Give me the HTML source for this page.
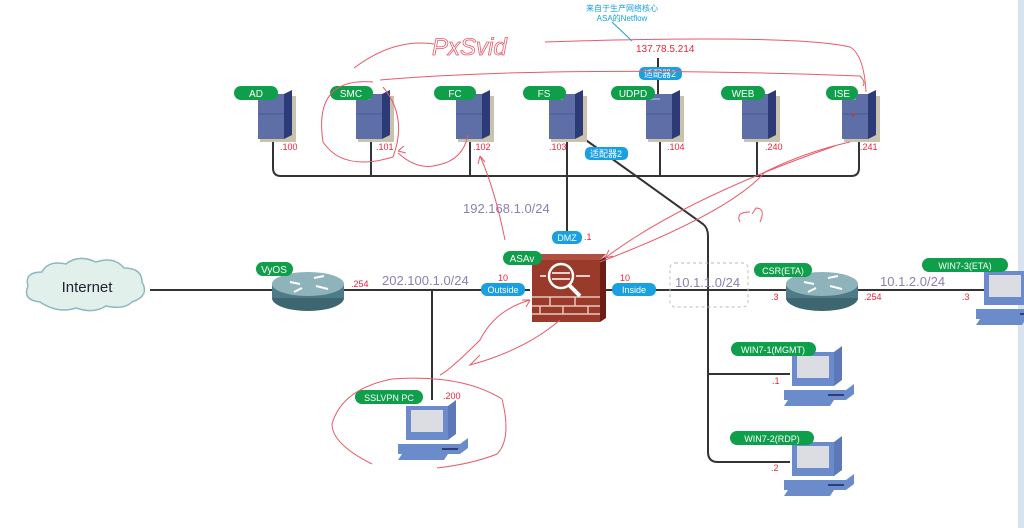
<!DOCTYPE html>
<html><head><meta charset="utf-8"><style>
html,body{margin:0;padding:0;background:#fff}
svg{display:block}
text{font-family:"Liberation Sans","Noto Sans CJK SC",sans-serif}
</style></head><body>
<svg width="1024" height="528" viewBox="0 0 1024 528" xmlns="http://www.w3.org/2000/svg">
<defs>
<g id="srv">
 <rect x="2" y="2" width="36" height="46" fill="#c9c3ad"/>
 <polygon points="26,0 34,-4 34,41 26,45" fill="#2c3a78"/>
 <rect x="0" y="0" width="26" height="45" fill="#5e6fa8"/>
 <rect x="4" y="4" width="10" height="2" fill="#8d9ccc"/>
 <line x1="0" y1="20" x2="26" y2="20" stroke="#4a5990"/>
</g>
<g id="pc">
 <polygon points="8,0 50,0 58,-6 58,28 50,34 8,34" fill="#5b78b8"/>
 <rect x="8" y="0" width="42" height="34" fill="#6b8bcb"/>
 <rect x="13" y="4" width="32" height="22" fill="#dcdde2"/>
 <polygon points="0,38 62,38 70,32 70,42 62,48 0,48" fill="#6b8bcb"/>
 <rect x="44" y="42" width="16" height="2" fill="#2a3e78"/>
 <polygon points="4,48 50,48 46,54 0,54" fill="#6b8bcb"/>
</g>
<g id="rtr">
 <ellipse cx="0" cy="8" rx="36" ry="13" fill="#3d6670"/>
 <rect x="-36" y="-6" width="72" height="14" fill="#4d7c88"/>
 <ellipse cx="0" cy="-6" rx="36" ry="12" fill="#8fb3bb"/>
 <path d="M-18,-8 l10,2 M6,-12 l10,-2 M-6,-2 l-8,4 M8,-4 l12,3" stroke="#fff" stroke-width="2"/>
</g>
</defs>

<rect x="1018" y="0" width="6" height="528" fill="#d7e3ef"/>

<g stroke="#333" stroke-width="2" fill="none">
 <path d="M273,140 V168 q0,8 8,8 H851 q8,0 8,-8 V140"/>
 <line x1="371" y1="140" x2="371" y2="176"/>
 <line x1="470" y1="140" x2="470" y2="176"/>
 <line x1="567" y1="140" x2="567" y2="238"/>
 <line x1="660" y1="140" x2="660" y2="176"/>
 <line x1="757" y1="140" x2="757" y2="176"/>
 <line x1="658" y1="58" x2="658" y2="94"/>
 <path d="M583,138 L703,224 q5,4 5,12 V452 q0,10 10,10 H790"/>
 <line x1="708" y1="374" x2="790" y2="374"/>
 <line x1="150" y1="290" x2="530" y2="290"/>
 <line x1="600" y1="290" x2="985" y2="290"/>
 <line x1="432" y1="290" x2="432" y2="400"/>
</g>

<use href="#srv" x="258" y="94"/>
<use href="#srv" x="356" y="94"/>
<use href="#srv" x="456" y="94"/>
<use href="#srv" x="549" y="94"/>
<use href="#srv" x="646" y="94"/>
<use href="#srv" x="742" y="94"/>
<use href="#srv" x="842" y="94"/>
<circle cx="853" cy="115" r="1.5" fill="#c33"/>

<g fill="#e2f0ec" stroke="#8fb8c0" stroke-width="1.5">
 <path d="M40,302 q-18,-2 -12,-16 q-4,-14 14,-14 q6,-12 24,-8 q12,-10 30,-2 q18,-6 28,6 q18,0 18,14 q8,14 -10,20 q-8,8 -26,4 q-12,8 -30,2 q-18,6 -36,-6z"/>
</g>
<text x="87" y="292" font-size="15" fill="#223" text-anchor="middle">Internet</text>

<use href="#rtr" x="308" y="290"/>
<use href="#rtr" x="822" y="290"/>

<g>
 <polygon points="600,260 606,256 606,318 600,322" fill="#6a1e16"/>
 <polygon points="532,260 538,254 606,254 600,260" fill="#b05040"/>
 <rect x="532" y="260" width="68" height="62" fill="#9a3a2a"/>
 <g stroke="#e8c8c0" stroke-width="1.5" fill="none">
  <line x1="532" y1="297" x2="600" y2="297"/><line x1="532" y1="306" x2="600" y2="306"/><line x1="532" y1="314" x2="600" y2="314"/>
  <line x1="550" y1="297" x2="550" y2="306"/><line x1="575" y1="297" x2="575" y2="306"/>
  <line x1="540" y1="306" x2="540" y2="314"/><line x1="563" y1="306" x2="563" y2="314"/><line x1="588" y1="306" x2="588" y2="314"/>
  <circle cx="561" cy="276" r="12" stroke="#fff" stroke-width="2.5"/>
  <line x1="569" y1="285" x2="580" y2="296" stroke="#fff" stroke-width="4"/>
  <path d="M552,273 h18 M570,279 h-18" stroke="#fff"/>
  <line x1="540" y1="276" x2="546" y2="276" stroke="#fff"/>
  <line x1="576" y1="276" x2="590" y2="276" stroke="#fff"/>
 </g>
</g>

<use href="#pc" x="398" y="406"/>
<use href="#pc" x="784" y="352"/>
<use href="#pc" x="784" y="442"/>
<use href="#pc" x="976" y="271"/>

<g fill="#0f9e4a">
 <rect x="234" y="86" width="44" height="14" rx="7"/>
 <rect x="330" y="86" width="43" height="14" rx="7"/>
 <rect x="434" y="86" width="42" height="14" rx="7"/>
 <rect x="523" y="86" width="43" height="14" rx="7"/>
 <rect x="611" y="86" width="44" height="14" rx="7"/>
 <rect x="721" y="86" width="44" height="14" rx="7"/>
 <rect x="826" y="86" width="32" height="14" rx="7"/>
 <rect x="256" y="262" width="37" height="14" rx="7"/>
 <rect x="503" y="251" width="39" height="14" rx="7"/>
 <rect x="355" y="390" width="68" height="14" rx="7"/>
 <rect x="754" y="263" width="58" height="14" rx="7"/>
 <rect x="922" y="258" width="86" height="14" rx="7"/>
 <rect x="731" y="342" width="85" height="14" rx="7"/>
 <rect x="730" y="431" width="84" height="14" rx="7"/>
</g>
<g fill="#fff" font-size="10" text-anchor="middle">
 <text x="256" y="97">AD</text>
 <text x="351" y="97">SMC</text>
 <text x="455" y="97">FC</text>
 <text x="544" y="97">FS</text>
 <text x="633" y="97">UDPD</text>
 <text x="743" y="97">WEB</text>
 <text x="842" y="97">ISE</text>
 <text x="274" y="273">VyOS</text>
 <text x="522" y="262">ASAv</text>
 <text x="389" y="401" font-size="9">SSLVPN PC</text>
 <text x="783" y="274" font-size="9">CSR(ETA)</text>
 <text x="965" y="269" font-size="9">WIN7-3(ETA)</text>
 <text x="773" y="353" font-size="9">WIN7-1(MGMT)</text>
 <text x="772" y="442" font-size="9">WIN7-2(RDP)</text>
</g>

<g fill="#1aa0e0">
 <rect x="639" y="67" width="43" height="13" rx="5"/>
 <rect x="585" y="147" width="43" height="13" rx="5"/>
 <rect x="552" y="231" width="30" height="13" rx="6"/>
 <rect x="481" y="283" width="44" height="13" rx="6"/>
 <rect x="612" y="283" width="44" height="13" rx="6"/>
</g>
<g fill="#fff" font-size="9" text-anchor="middle">
 <text x="660" y="77">适配器2</text>
 <text x="606" y="157">适配器2</text>
 <text x="567" y="241">DMZ</text>
 <text x="503" y="293">Outside</text>
 <text x="634" y="293">Inside</text>
</g>

<g fill="#e8243c" font-size="9">
 <text x="280" y="150">.100</text>
 <text x="376" y="150">.101</text>
 <text x="473" y="150">.102</text>
 <text x="549" y="150">.103</text>
 <text x="667" y="150">.104</text>
 <text x="765" y="150">.240</text>
 <text x="860" y="150">.241</text>
 <text x="636" y="52" font-size="10">137.78.5.214</text>
 <text x="584" y="240">.1</text>
 <text x="351" y="287">.254</text>
 <text x="498" y="281">10</text>
 <text x="620" y="281">10</text>
 <text x="771" y="300">.3</text>
 <text x="864" y="300">.254</text>
 <text x="962" y="300">.3</text>
 <text x="772" y="384">.1</text>
 <text x="771" y="471">.2</text>
 <text x="443" y="399">.200</text>
</g>
<text x="622" y="11" fill="#1aa0e0" font-size="8" text-anchor="middle">来自于生产网络核心</text>
<text x="622" y="21" fill="#1aa0e0" font-size="8" text-anchor="middle">ASA的Netflow</text>
<line x1="612" y1="22" x2="632" y2="41" stroke="#1aa0e0"/>

<g fill="#8c7fb0" font-size="13">
 <text x="463" y="213">192.168.1.0/24</text>
 <text x="382" y="285">202.100.1.0/24</text>
 <text x="675" y="287">10.1.1.0/24</text>
 <text x="880" y="286">10.1.2.0/24</text>
</g>
<rect x="670" y="263" width="78" height="44" rx="5" fill="none" stroke="#bbb" stroke-dasharray="3,3"/>

<g stroke="#e85a6a" stroke-width="1" fill="none">
 <path d="M354,68 q40,-30 80,-24"/>
 <text x="432" y="55" font-size="24" fill="none" stroke="#e85a6a" stroke-width="0.8" font-style="italic" font-family="Liberation Serif,serif">PxSvid</text>
 <path d="M545,42 q250,-8 305,5 q14,8 16,45"/>
 <path d="M373,82 q-60,-5 -50,60 q20,30 70,15 q15,-40 -10,-70"/>
 <path d="M380,80 q180,-15 480,-4 q6,6 3,10"/>
 <path d="M398,153 q20,18 40,12 q25,-5 30,-30"/>
 <path d="M398,151 l6,-5 M398,151 l8,2"/>
 <path d="M505,240 q-10,-50 -25,-84 M480,156 l-2,8 M480,156 l5,6"/>
 <path d="M605,258 q80,-60 230,-112"/>
 <path d="M600,262 q130,-50 165,-90 q40,-20 85,-30"/>
 <path d="M605,258 l8,-2 M605,258 l4,-8"/>
 <path d="M740,222 q-5,-10 10,-10 M752,214 l4,-6 q10,0 4,14"/>
 <path d="M530,300 q-35,10 -50,40 q-30,30 -40,35 M530,300 l-8,0 M530,300 l-4,7"/>
 <path d="M560,320 q-35,30 -90,45 l10,-10"/>
 <path d="M372,464 q-40,-20 -40,-40 q10,-35 60,-45 q70,-5 110,20 q10,40 -5,55 q-25,10 -60,14"/>
</g>
</svg>
</body></html>
